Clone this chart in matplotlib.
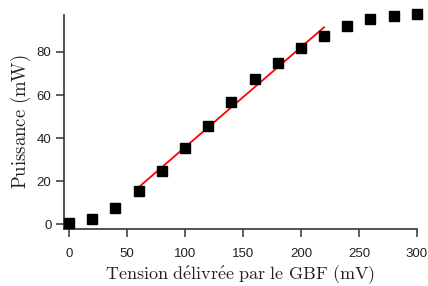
import matplotlib
matplotlib.use('Agg')
import matplotlib.pyplot as plt

# mesures
tension = [0, 20, 40, 60, 80, 100, 120, 140, 160, 180, 200, 220, 240, 260, 280, 300]
puissance = [0.3, 2.3, 7.3, 15.3, 24.6, 35.3, 45.6, 56.6, 67.3, 74.7, 81.7, 87.4, 92.1, 95.2, 96.7, 97.5]

# droite d'ajustement (zone lineaire)
fit_x = [60, 220]
fit_y = [17.1, 91.5]

plt.rcParams['mathtext.fontset'] = 'cm'

fig = plt.figure(figsize=(4.28, 2.86), dpi=100)
ax = fig.add_axes([0.1495, 0.199, 0.8245, 0.7486])

ax.plot(tension, puissance, 's', color='black', markersize=6.6, clip_on=False, zorder=3)
ax.plot(fit_x, fit_y, '-', color='#ff0000', linewidth=1.3, zorder=2)

ax.set_xlim(-4.3, 300)
ax.set_ylim(-2.3, 97.2)
ax.set_xticks([0, 50, 100, 150, 200, 250, 300])
ax.set_yticks([0, 20, 40, 60, 80])

for side in ['top', 'right']:
    ax.spines[side].set_visible(False)
for side in ['left', 'bottom']:
    ax.spines[side].set_color('#333333')
    ax.spines[side].set_linewidth(1.2)

ax.tick_params(direction='out', length=6, width=1.1, color='#333333',
               labelsize=9.5, labelcolor='#222222')
ax.tick_params(axis='x', pad=7.5)
ax.tick_params(axis='y', pad=3)
for lab in ax.get_xticklabels() + ax.get_yticklabels():
    lab.set_family('Liberation Sans')

ax.set_xlabel(r'$\mathrm{Tension\ d\acute{e}livr\acute{e}e\ par\ le\ GBF\ (mV)}$',
              fontsize=13, labelpad=2.5, color='#222222')
ax.set_ylabel(r'$\mathrm{Puissance\ (mW)}$', fontsize=13.5, labelpad=3, color='#222222')

fig.savefig('out.png', dpi=100)
